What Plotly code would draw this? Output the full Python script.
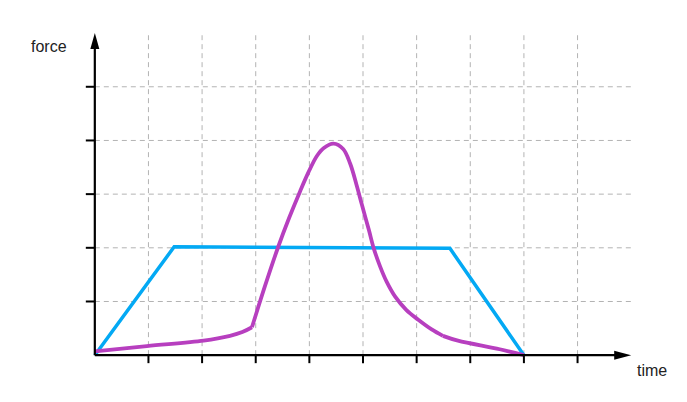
import plotly.graph_objects as go

# ---- data ----
blue_t = [0, 1.48, 6.62, 8.0]
blue_f = [0, 2.02, 1.99, 0]

# purple curve, in three pieces joined at its two kinks
purple_a_t = [0, 0.97, 2.03, 2.52, 2.75, 2.93]
purple_a_f = [0.07, 0.17, 0.27, 0.36, 0.43, 0.52]
purple_b_t = [2.93, 3.17, 3.42, 3.62, 3.83, 3.98, 4.14, 4.27, 4.45, 4.63, 4.76, 4.88, 4.98,
              5.11, 5.20, 5.32, 5.44, 5.60, 5.81, 6.03, 6.28, 6.49]
purple_b_f = [0.52, 1.28, 2.02, 2.55, 3.06, 3.40, 3.71, 3.86, 3.94, 3.84, 3.57, 3.17, 2.80,
              2.33, 1.99, 1.65, 1.37, 1.09, 0.84, 0.66, 0.48, 0.36]
purple_c_t = [6.49, 6.77, 7.55, 8.0]
purple_c_f = [0.36, 0.27, 0.11, 0.0]

x_ticks = [1, 2, 3, 4, 5, 6, 7, 8, 9]
y_ticks = [1, 2, 3, 4, 5]
x_max = 10
y_max = 6

x_label = "time"
y_label = "force"

BLUE = "#03A9F4"
PURPLE = "#B73FBF"

fig = go.Figure()
fig.add_trace(go.Scatter(x=blue_t, y=blue_f, mode="lines",
                         line=dict(color=BLUE, width=3.5), hoverinfo="skip"))
for tt, ff in [(purple_a_t, purple_a_f), (purple_b_t, purple_b_f), (purple_c_t, purple_c_f)]:
    fig.add_trace(go.Scatter(x=tt, y=ff, mode="lines",
                             line=dict(color=PURPLE, width=3.8, shape="spline", smoothing=1),
                             hoverinfo="skip"))

shapes = []
grid = dict(color="#b3b3b3", width=1, dash="5px,4px")
for xt in x_ticks:
    shapes.append(dict(type="line", xref="x", yref="y", x0=xt, x1=xt, y0=0, y1=5.96,
                       line=grid, layer="below"))
for yt in y_ticks:
    shapes.append(dict(type="line", xref="x", yref="y", x0=0, x1=x_max, y0=yt, y1=yt,
                       line=grid, layer="below"))
# axes
axis_line = dict(color="#000000", width=2.2)
shapes.append(dict(type="line", xref="x", yref="y", x0=0, x1=x_max - 0.2, y0=0, y1=0, line=axis_line))
shapes.append(dict(type="line", xref="x", yref="y", x0=0, x1=0, y0=0, y1=y_max - 0.2, line=axis_line))
# arrowheads
shapes.append(dict(type="path", xref="x", yref="y", xsizemode="pixel", ysizemode="pixel",
                   xanchor=x_max, yanchor=0, path="M 0 0 L -17 4.5 L -17 -4.5 Z",
                   fillcolor="#000000", line=dict(width=0)))
shapes.append(dict(type="path", xref="x", yref="y", xsizemode="pixel", ysizemode="pixel",
                   xanchor=0, yanchor=y_max, path="M 0 0 L 4.5 -16 L -4.5 -16 Z",
                   fillcolor="#000000", line=dict(width=0)))
# ticks
for xt in x_ticks:
    shapes.append(dict(type="line", xref="x", yref="y", xsizemode="scaled", ysizemode="pixel",
                       yanchor=0, x0=xt, x1=xt, y0=0, y1=-8, line=dict(color="#000000", width=2)))
for yt in y_ticks:
    shapes.append(dict(type="line", xref="x", yref="y", xsizemode="pixel", ysizemode="scaled",
                       xanchor=0, x0=-9, x1=0, y0=yt, y1=yt, line=dict(color="#000000", width=2)))

annotations = [
    dict(x=0, y=5.75, xref="x", yref="y", text=y_label, showarrow=False,
         xanchor="right", yanchor="middle", xshift=-26,
         font=dict(family="Liberation Sans, Arial", size=16, color="#222222")),
    dict(x=10.08, y=-0.28, xref="x", yref="y", text=x_label, showarrow=False,
         xanchor="left", yanchor="middle",
         font=dict(family="Liberation Sans, Arial", size=16, color="#222222")),
]

# page body has an 8px margin; size the figure so the plot lands where the reference has it
px = 53.7
ox, oy = 94.5 - 8, 355.2 - 8          # origin inside the figure div
W, H = 679, 394
xr = [-0.5, 10.5]
yr = [-0.5, 6.3]
l = ox + xr[0] * px
t = oy - yr[1] * px
pw = (xr[1] - xr[0]) * px
ph = (yr[1] - yr[0]) * px

fig.update_layout(
    width=W, height=H,
    margin=dict(l=l, r=W - l - pw, t=t, b=H - t - ph, pad=0),
    paper_bgcolor="white", plot_bgcolor="white",
    showlegend=False,
    xaxis=dict(range=xr, visible=False, fixedrange=True),
    yaxis=dict(range=yr, visible=False, fixedrange=True),
    shapes=shapes, annotations=annotations,
)

fig.write_html("out.html", config={"displayModeBar": False})
